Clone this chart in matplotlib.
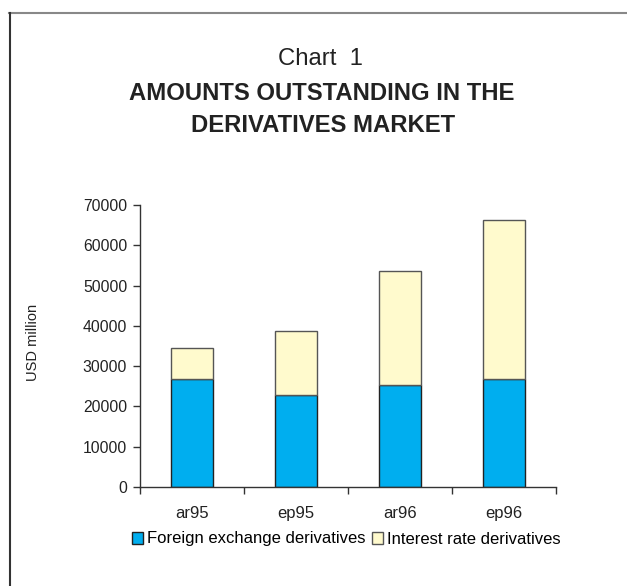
import matplotlib
matplotlib.use("Agg")
import matplotlib.pyplot as plt
from matplotlib.lines import Line2D
import numpy as np

plt.rcParams['font.family'] = ['Liberation Sans', 'DejaVu Sans']

categories = ["ar95", "ep95", "ar96", "ep96"]
fx_derivatives = [26900, 22750, 25200, 26900]
ir_derivatives = [7600, 16050, 28500, 39450]
series_names = ["Foreign exchange derivatives", "Interest rate derivatives"]
yticks = [0, 10000, 20000, 30000, 40000, 50000, 60000, 70000]

W, H = 627, 586
fig = plt.figure(figsize=(W / 100, H / 100), dpi=100)
ax = fig.add_axes([139.7 / W, 1 - 487 / H, (555.7 - 139.7) / W, (487 - 205) / H])

x = np.arange(len(categories))
b1 = ax.bar(x, fx_derivatives, width=0.4, color="#00AEEF", edgecolor="#222222", linewidth=1.0)
b2 = ax.bar(x, ir_derivatives, bottom=fx_derivatives, width=0.4, color="#FFFACD",
            edgecolor="#555555", linewidth=1.0)

ax.set_xlim(-0.5, len(categories) - 0.5)
ax.set_ylim(0, 70000)
ax.set_yticks(yticks)
ax.set_yticklabels([str(v) for v in yticks], fontsize=11.3, color="#222222")
ax.set_xticks(x)
ax.set_xticklabels(categories, fontsize=12, color="#222222")
ax.set_xticks(np.arange(-0.5, len(categories)), minor=True)
ax.tick_params(axis="x", which="major", length=0, pad=14)
ax.tick_params(axis="x", which="minor", length=5, width=1, color="#333333", direction="out")
ax.tick_params(axis="y", length=5, width=1, color="#333333", direction="out", pad=4)
for s in ["top", "right"]:
    ax.spines[s].set_visible(False)
for s in ["left", "bottom"]:
    ax.spines[s].set_color("#333333")
    ax.spines[s].set_linewidth(1)

fig.text(33 / W, 1 - 342 / H, "USD million", rotation=90, ha="center", va="center",
         fontsize=10.5, color="#222222")

fig.text(320.5 / W, 1 - 65 / H, "Chart  1", ha="center", va="baseline", fontsize=17.2, color="#222222")
fig.text(322 / W, 1 - 100 / H, "AMOUNTS OUTSTANDING IN THE", ha="center", va="baseline",
         fontsize=17.2, fontweight="bold", color="#222222")
fig.text(323 / W, 1 - 131.7 / H, "DERIVATIVES MARKET", ha="center", va="baseline",
         fontsize=17.2, fontweight="bold", color="#222222")

leg = fig.legend([b1, b2], series_names, loc="center", bbox_to_anchor=(346 / W, 1 - 539 / H),
                 ncol=2, frameon=False, fontsize=12, handlelength=0.7, handleheight=0.7,
                 handletextpad=0.2, columnspacing=0.4)

fig.add_artist(Line2D([9 / W, 1], [1 - 13 / H, 1 - 13 / H], transform=fig.transFigure,
                      color="#888888", linewidth=1.5))
fig.add_artist(Line2D([9.5 / W, 9.5 / W], [0, 1 - 13 / H], transform=fig.transFigure,
                      color="#333333", linewidth=1.5))

fig.savefig("out.png", dpi=100)
